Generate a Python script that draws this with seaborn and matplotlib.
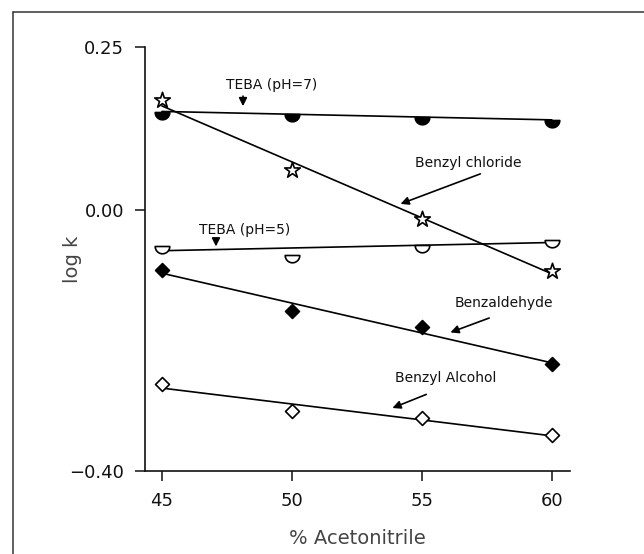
import numpy as np
import matplotlib
matplotlib.use("Agg")
import matplotlib.pyplot as plt
import matplotlib.path as mpath
from matplotlib.lines import Line2D
import seaborn as sns

sns.set_style("ticks")
plt.rcParams['font.family'] = ['DejaVu Sans']

acetonitrile = [45, 50, 55, 60]
teba_ph7 = [0.151, 0.147, 0.143, 0.138]
benzyl_chloride = [0.168, 0.062, -0.013, -0.093]
teba_ph5 = [-0.055, -0.069, -0.054, -0.046]
benzaldehyde = [-0.092, -0.154, -0.180, -0.236]
benzyl_alcohol = [-0.267, -0.308, -0.318, -0.345]

y_ticks = [0.25, 0.00, -0.40]

# lower half of a circle, flat side up
t = np.linspace(np.pi, 2 * np.pi, 40)
half = mpath.Path(np.column_stack([np.cos(t), np.sin(t)]).tolist() + [[-1, 0]], closed=True)

series = [
    (teba_ph7, half, 'black', 110),
    (benzyl_chloride, '*', 'white', 140),
    (teba_ph5, half, 'white', 110),
    (benzaldehyde, 'D', 'black', 50),
    (benzyl_alcohol, 'D', 'white', 50),
]

fig = plt.figure(figsize=(6.44, 5.54), dpi=100)
ax = fig.add_axes([145 / 644, 1 - 471 / 554, 425 / 644, 424 / 554])

for vals, mk, fc, sz in series:
    sns.regplot(x=acetonitrile, y=vals, ax=ax, ci=None, scatter=False,
                line_kws=dict(color='black', lw=1.2))
    sns.scatterplot(x=acetonitrile, y=vals, ax=ax, marker=mk, s=sz, color='black',
                    facecolor=fc, edgecolor='black', linewidth=1.2, zorder=3)

ax.set_xlim(44.35, 60.7)
ax.set_ylim(-0.40, 0.25)
ax.set_xticks(acetonitrile)
ax.set_yticks(y_ticks)
ax.set_yticklabels([f"{v:.2f}".replace('-', '\u2212') for v in y_ticks])
ax.tick_params(axis='both', labelsize=13, length=7, width=1.1, pad=8, colors='#111')
sns.despine(ax=ax)
for s in ['left', 'bottom']:
    ax.spines[s].set_linewidth(1.2)
    ax.spines[s].set_color('#111')

ax.set_xlabel("% Acetonitrile", fontsize=14, color='#444', labelpad=14)
ax.set_ylabel("log k", fontsize=14, color='#444')
ax.yaxis.set_label_coords(-0.148, 0.5)

arrow = dict(arrowstyle='-|>', color='black', lw=1.2, mutation_scale=12)
notes = [
    ("TEBA (pH=7)", (49.23, 0.192), (48.12, 0.179), (48.12, 0.155)),
    ("Benzyl chloride", (56.77, 0.072), (57.35, 0.057), (54.08, 0.008)),
    ("TEBA (pH=5)", (48.19, -0.031), (47.08, -0.041), (47.08, -0.060)),
    ("Benzaldehyde", (58.15, -0.143), (57.69, -0.164), (56.0, -0.189)),
    ("Benzyl Alcohol", (55.92, -0.258), (55.27, -0.281), (53.77, -0.305)),
]
for label, pos, tail, head in notes:
    ax.text(pos[0], pos[1], label, fontsize=10, ha='center', va='center', color='#111')
    ax.annotate("", xy=head, xytext=tail, arrowprops=arrow)

fig.add_artist(Line2D([13 / 644, 1], [1 - 11.5 / 554] * 2, color='#333', lw=1.1))
fig.add_artist(Line2D([13 / 644] * 2, [0, 1 - 11.5 / 554], color='#333', lw=1.1))

fig.savefig("out.png", dpi=100)
